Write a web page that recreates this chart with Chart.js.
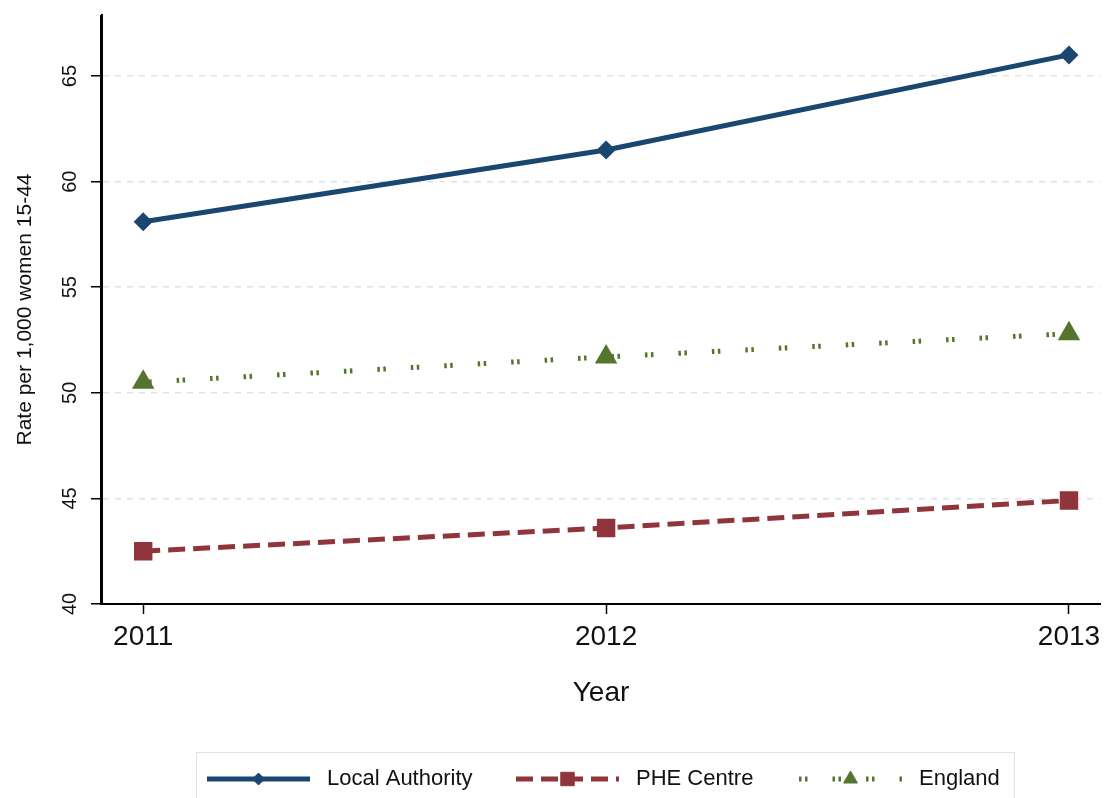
<!DOCTYPE html>
<html>
<head>
<meta charset="utf-8">
<script src="https://cdn.jsdelivr.net/npm/chart.js@4/dist/chart.umd.min.js"></script>
<style>
    html, body { margin: 0; padding: 0; background: #fff; }
    #wrap { width: 1104px; height: 798px; }
</style>
</head>
<body>
<div id="wrap"><canvas id="chart" width="1104" height="798"></canvas></div>
<script>
// Data
const years = [2011, 2012, 2013];
const localAuthority = [58.1, 61.5, 66.0];
const pheCentre = [42.5, 43.6, 44.9];
const england = [50.5, 51.7, 52.8];
const yTicks = [40, 45, 50, 55, 60, 65];

const toPoints = vals => vals.map((v, i) => ({ x: years[i], y: v }));

Chart.defaults.font.family = "'Liberation Sans', Arial, sans-serif";
Chart.defaults.color = '#111';

// no extra label padding, so the plot fills the frame like the original
function noPad(scale) {
    scale.paddingLeft = 0;
    scale.paddingRight = 0;
    scale.paddingTop = 0;
    scale.paddingBottom = 0;
}

// Stata-style legend drawn below the plot, with line samples
const legendStarts = [207, 516, 799];
const sampleWidth = 103;
const stataLegend = {
    id: 'stataLegend',
    afterDraw(chart) {
        const ctx = chart.ctx;
        const y = 779;
        ctx.save();
        ctx.strokeStyle = '#dde3e6';
        ctx.lineWidth = 1;
        ctx.strokeRect(196.5, 752.5, 818, 60);

        chart.data.datasets.forEach((ds, i) => {
            const x0 = legendStarts[i];
            ctx.save();
            ctx.strokeStyle = ds.borderColor;
            ctx.lineWidth = ds.borderWidth;
            ctx.setLineDash(ds.borderDash || []);
            ctx.beginPath();
            ctx.moveTo(x0, y);
            ctx.lineTo(x0 + sampleWidth, y);
            ctx.stroke();
            ctx.restore();

            ctx.save();
            ctx.fillStyle = ds.pointBackgroundColor;
            ctx.strokeStyle = ds.pointBorderColor;
            ctx.lineWidth = 1;
            Chart.helpers.drawPoint(ctx, {
                pointStyle: ds.pointStyle,
                rotation: 0,
                radius: ds.pointRadius,
                borderWidth: 1
            }, x0 + sampleWidth / 2, y);
            ctx.restore();

            ctx.fillStyle = '#111';
            ctx.font = "22px 'Liberation Sans', Arial, sans-serif";
            ctx.textBaseline = 'middle';
            ctx.textAlign = 'left';
            ctx.fillText(ds.label, x0 + sampleWidth + 17, y);
        });
        ctx.restore();
    }
};

// solid left axis line (the dashed option below only styles the gridlines)
const solidAxis = {
    id: 'solidAxis',
    afterDraw(chart) {
        const a = chart.chartArea;
        const ctx = chart.ctx;
        ctx.save();
        ctx.strokeStyle = '#000';
        ctx.lineWidth = 2;
        ctx.setLineDash([]);
        ctx.beginPath();
        ctx.moveTo(a.left - 1, a.top);
        ctx.lineTo(a.left - 1, a.bottom + 1);
        ctx.stroke();
        ctx.restore();
    }
};

const ctx = document.getElementById('chart').getContext('2d');
new Chart(ctx, {
    type: 'line',
    data: {
        datasets: [
            {
                label: 'Local Authority',
                data: toPoints(localAuthority),
                borderColor: '#1a476f',
                backgroundColor: '#1a476f',
                borderWidth: 5,
                pointStyle: 'rectRot',
                pointRadius: 6,
                pointBackgroundColor: '#1a476f',
                pointBorderColor: '#1a476f'
            },
            {
                label: 'PHE Centre',
                data: toPoints(pheCentre),
                borderColor: '#90353b',
                backgroundColor: '#90353b',
                borderWidth: 5,
                borderDash: [17, 8],
                pointStyle: 'rect',
                pointRadius: 9.5,
                pointBackgroundColor: '#90353b',
                pointBorderColor: '#90353b'
            },
            {
                label: 'England',
                data: toPoints(england),
                borderColor: '#55752f',
                backgroundColor: '#55752f',
                borderWidth: 5,
                borderDash: [2.5, 3.5, 2.5, 25],
                pointStyle: 'triangle',
                pointRadius: 8,
                pointBackgroundColor: '#55752f',
                pointBorderColor: '#55752f'
            }
        ]
    },
    options: {
        responsive: false,
        animation: false,
        layout: { autoPadding: false, padding: { left: 0, right: 4, top: 15, bottom: 78 } },
        plugins: {
            legend: { display: false },
            tooltip: { enabled: false }
        },
        scales: {
            x: {
                type: 'linear',
                min: 2010.911,
                max: 2013.067,
                afterBuildTicks: scale => { scale.ticks = years.map(v => ({ value: v })); },
                afterFit: scale => { scale.height = 116; noPad(scale); },
                ticks: {
                    callback: v => String(v),
                    font: { size: 28 },
                    color: '#111',
                    padding: 6,
                    maxRotation: 0
                },
                grid: {
                    drawOnChartArea: false,
                    tickColor: '#000',
                    tickLength: 10,
                    tickWidth: 1.5
                },
                border: { color: '#000', width: 2 },
                title: {
                    display: true,
                    text: 'Year',
                    font: { size: 28 },
                    color: '#111',
                    padding: { top: 0, bottom: 10 }
                }
            },
            y: {
                min: 40,
                max: 67.89,
                afterBuildTicks: scale => { scale.ticks = yTicks.map(v => ({ value: v })); },
                afterFit: scale => { scale.width = 102; noPad(scale); },
                ticks: {
                    callback: v => String(v),
                    font: { size: 20 },
                    color: '#111',
                    minRotation: 90,
                    maxRotation: 90,
                    crossAlign: 'center',
                    padding: 9
                },
                grid: {
                    color: c => (c.tick && c.tick.value === 40) ? 'rgba(0,0,0,0)' : '#d9e4e8',
                    lineWidth: 1.5,
                    tickColor: '#000',
                    tickLength: 11,
                    tickWidth: 1.5,
                    tickBorderDash: []
                },
                border: { color: '#000', width: 2, dash: [6, 6] },
                title: {
                    display: true,
                    text: 'Rate per 1,000 women 15-44',
                    font: { size: 21 },
                    color: '#111',
                    padding: { top: 13, bottom: 0 }
                }
            }
        }
    },
    plugins: [stataLegend, solidAxis]
});
</script>
</body>
</html>
